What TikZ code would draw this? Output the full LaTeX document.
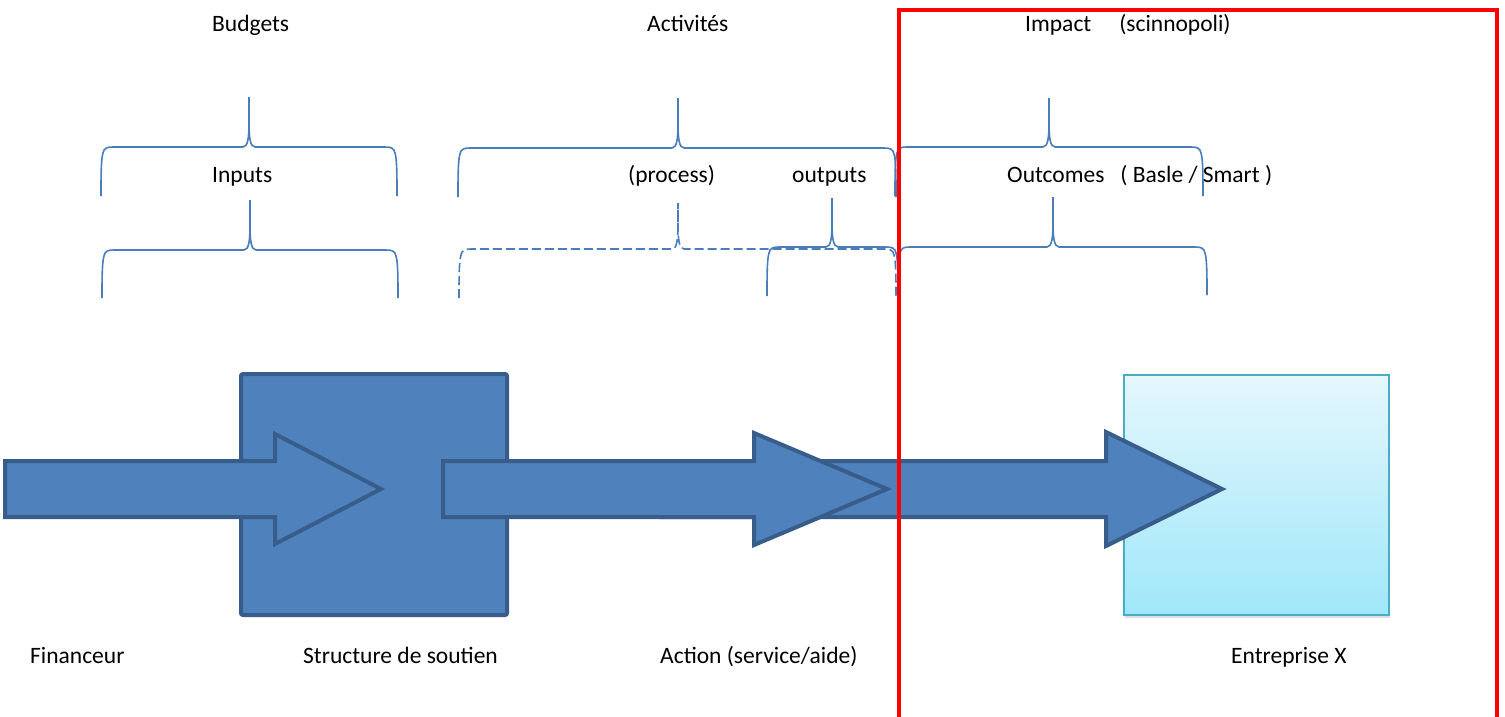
\documentclass[tikz,border=0pt]{standalone}
\usepackage{fontspec}
\setmainfont{Carlito}
\usetikzlibrary{shadows}
\definecolor{braceblue}{HTML}{4A7EBB}
\definecolor{arrowfill}{HTML}{4F81BD}
\definecolor{arrowline}{HTML}{385D8A}
\definecolor{entline}{HTML}{4BACC6}
\definecolor{enttop}{HTML}{E4F7FC}
\definecolor{entbot}{HTML}{A0E7FA}
\definecolor{framered}{HTML}{FF0000}
% #1 extra style, #2 xl, #3 xr, #4 xt, #5 ytip, #6 ymid, #7 ybottom
\newcommand{\wbrace}[7][]{%
  \draw[bracestyle,#1] (#2,#7) .. controls (#2,#6+30) and (#2,#6+12) .. (#2+2,#6+6)
    .. controls (#2+3,#6+1) and (#2+6,#6) .. (#2+12,#6) -- (#4-6,#6)
    .. controls (#4-1,#6) and (#4,#6-10) .. (#4,#6-25) -- (#4,#5)
    -- (#4,#6-25) .. controls (#4,#6-10) and (#4+1,#6) .. (#4+6,#6) -- (#3-12,#6)
    .. controls (#3-6,#6) and (#3-3,#6+1) .. (#3-2,#6+6)
    .. controls (#3,#6+12) and (#3,#6+30) .. (#3,#7);}
% #1 name, #2 xstart, #3 xback, #4 xtip, #5 yc, #6 half shaft, #7 half head
\newcommand{\fatarrow}[7]{%
  \coordinate (#1-tail) at (#2,#5);
  \coordinate (#1-tip) at (#4,#5);
  \draw[fatstyle] (#2,#5-#6) -- (#3,#5-#6) -- (#3,#5-#7) -- (#1-tip)
    -- (#3,#5+#7) -- (#3,#5+#6) -- (#2,#5+#6) -- cycle;}
\begin{document}
\begin{tikzpicture}[x=1pt,y=-1pt,
  bracestyle/.style={draw=braceblue, line width=1.6pt},
  fatstyle/.style={fill=arrowfill, draw=arrowline, line width=4pt, line join=miter},
  lbl/.style={font=\fontsize{23.5}{28}\selectfont, inner sep=0pt, anchor=base west, text=black}]
\useasboundingbox (0,0) rectangle (1505,717);
\fill[white] (0,0) rectangle (1505,717);

% top labels
\node[lbl] (budgets) at (212,32) {Budgets};
\node[lbl] (activites) at (647,32) {Activités};
\node[lbl] (impact) at (1025,32) {Impact\hspace{28pt}(scinnopoli)};
% middle labels
\node[lbl] (inputs) at (212,182) {Inputs};
\node[lbl] (process) at (628,182) {(process)};
\node[lbl] (outputs) at (792,182) {outputs};
\node[lbl] (outcomes) at (1007,182) {Outcomes\hspace{16pt}( Basle / Smart )};
% bottom labels
\node[lbl] (financeur) at (30,663) {Financeur};
\node[lbl] (structure) at (303,663) {Structure de soutien};
\node[lbl] (action) at (660,663) {Action (service/aide)};
\node[lbl] (entreprise) at (1231,663) {Entreprise X};

% braces
\wbrace{101}{397}{249}{97}{147}{196}
\wbrace{102}{398}{250}{200}{250}{298}
\wbrace{458}{896}{678}{98}{148}{197}
\wbrace[dash pattern=on 9pt off 4pt]{459}{896}{678}{203}{249}{298}
\wbrace{767}{898}{832}{198}{247}{296}
\wbrace{895}{1203}{1049}{98}{147}{196}
\wbrace{898}{1207}{1053}{197}{247}{295}

% boxes
\node[draw=arrowline, fill=arrowfill, line width=4pt, rounded corners=2pt,
  minimum width=266pt, minimum height=241pt, inner sep=0pt] (struct) at (374,494.5) {};
\node[draw=entline, line width=1.5pt, top color=enttop, bottom color=entbot,
  minimum width=265pt, minimum height=240pt, inner sep=0pt,
  drop shadow={shadow xshift=1pt, shadow yshift=-3pt, opacity=0.25}] (ent) at (1256.5,495) {};

% arrows
\fatarrow{a1}{5}{275}{381}{489}{28}{55}
\fatarrow{a3}{661}{1106}{1222}{489}{28}{57}
\fatarrow{a2}{443}{754}{887}{489}{28}{56}

% red frame
\draw[framered, line width=4pt] (899,10) rectangle (1497,719);
\end{tikzpicture}
\end{document}
